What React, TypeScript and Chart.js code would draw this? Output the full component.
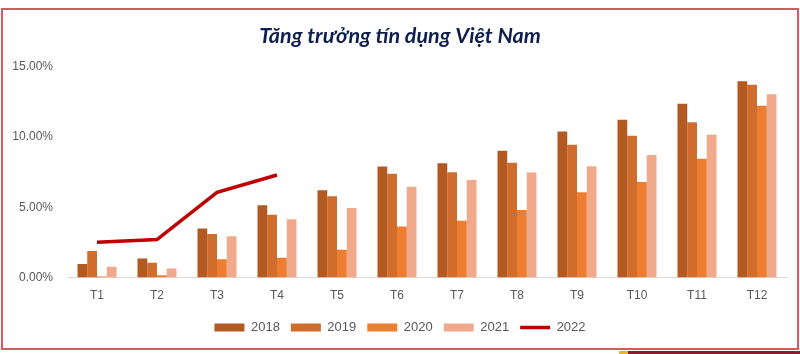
import React, { useEffect, useRef } from "react";
import { Chart, registerables } from "chart.js";

Chart.register(...registerables);

const categories = ["T1", "T2", "T3", "T4", "T5", "T6", "T7", "T8", "T9", "T10", "T11", "T12"];
const series2018 = [0.96, 1.36, 3.5, 5.15, 6.22, 7.9, 8.14, 9.02, 10.39, 11.23, 12.37, 13.97];
const series2019 = [1.89, 1.05, 3.11, 4.48, 5.79, 7.39, 7.49, 8.18, 9.45, 10.1, 11.06, 13.73];
const series2020 = [0.07, 0.17, 1.3, 1.41, 1.99, 3.64, 4.05, 4.81, 6.08, 6.8, 8.45, 12.23];
const series2021 = [0.77, 0.65, 2.94, 4.16, 4.95, 6.46, 6.94, 7.47, 7.92, 8.73, 10.17, 13.04];
const series2022 = [2.51, 2.71, 6.06, 7.3, null, null, null, null, null, null, null, null];
const yTicks = [0, 5, 10, 15];
const titleText = "Tăng trưởng tín dụng Việt Nam";

export default function App() {
  const ref = useRef<HTMLCanvasElement | null>(null);

  useEffect(() => {
    if (!ref.current) return;
    const tickFont = { family: "'Liberation Sans', Arial, sans-serif", size: 12 };
    const chart = new Chart(ref.current, {
      type: "bar",
      data: {
        labels: categories,
        datasets: [
          { type: "line", label: "2022", data: series2022, borderColor: "#C00000", backgroundColor: "#C00000", borderWidth: 3.5, pointRadius: 0, tension: 0, order: 0 } as any,
          { label: "2018", data: series2018, backgroundColor: "#B35A22", order: 1 },
          { label: "2019", data: series2019, backgroundColor: "#D06C2C", order: 1 },
          { label: "2020", data: series2020, backgroundColor: "#ED7D31", order: 1 },
          { label: "2021", data: series2021, backgroundColor: "#F0A98A", order: 1 },
        ],
      },
      options: {
        animation: false,
        responsive: false,
        maintainAspectRatio: false,
        layout: { padding: { left: 13, right: 13, top: 0, bottom: 6 } },
        datasets: { bar: { categoryPercentage: 0.65, barPercentage: 1 } },
        plugins: {
          title: {
            display: true,
            text: titleText,
            color: "#0F1E4E",
            font: { family: "Lato, 'Open Sans', sans-serif", size: 21.5, weight: "bold", style: "italic" },
            padding: { top: 23, bottom: 18 },
          },
          tooltip: { enabled: false },
          legend: {
            position: "bottom",
            labels: {
              color: "#595959",
              font: { family: "'Liberation Sans', Arial, sans-serif", size: 13 },
              usePointStyle: true,
              pointStyleWidth: 30,
              boxHeight: 8,
              padding: 11,
              sort: (a: any, b: any) => Number(a.text) - Number(b.text),
              generateLabels: (c: any) => {
                const items = Chart.defaults.plugins.legend.labels.generateLabels(c);
                items.forEach((it: any) => {
                  if (it.text === "2022") {
                    it.pointStyle = "line";
                    it.lineWidth = 3.5;
                    it.strokeStyle = "#C00000";
                  } else {
                    it.pointStyle = "rect";
                    it.lineWidth = 0;
                  }
                });
                return items;
              },
            },
          },
        },
        scales: {
          x: {
            afterFit: (s: any) => { s.height = s.height - 4; },
            grid: { display: false, drawTicks: false },
            border: { display: true, color: "#D9D9D9", width: 1 },
            ticks: { color: "#595959", font: tickFont, padding: 11 },
          },
          y: {
            min: 0,
            max: 15,
            afterFit: (s: any) => { s.width = 54; },
            afterBuildTicks: (s: any) => { s.ticks = yTicks.map((v) => ({ value: v })); },
            grid: { display: false, drawTicks: false },
            border: { display: false },
            ticks: {
              color: "#595959",
              font: tickFont,
              padding: 14,
              callback: (v: any) => Number(v).toFixed(2) + "%",
            },
          },
        },
      },
    });
    return () => chart.destroy();
  }, []);

  return (
    <div style={{ position: "absolute", left: 0, top: 0, width: 800, height: 354, background: "#fff", overflow: "hidden" }}>
      <div style={{ position: "absolute", left: 1, top: 8, width: 794, height: 338, border: "2px solid #D35A5E" }} />
      <div style={{ position: "absolute", left: 619, top: 351, width: 9, height: 3, background: "#E8B630" }} />
      <div style={{ position: "absolute", left: 628, top: 351, width: 172, height: 3, background: "#8E1B2C" }} />
      <canvas ref={ref} width={800} height={350} style={{ position: "absolute", left: 0, top: 0, width: 800, height: 350 }} />
    </div>
  );
}
